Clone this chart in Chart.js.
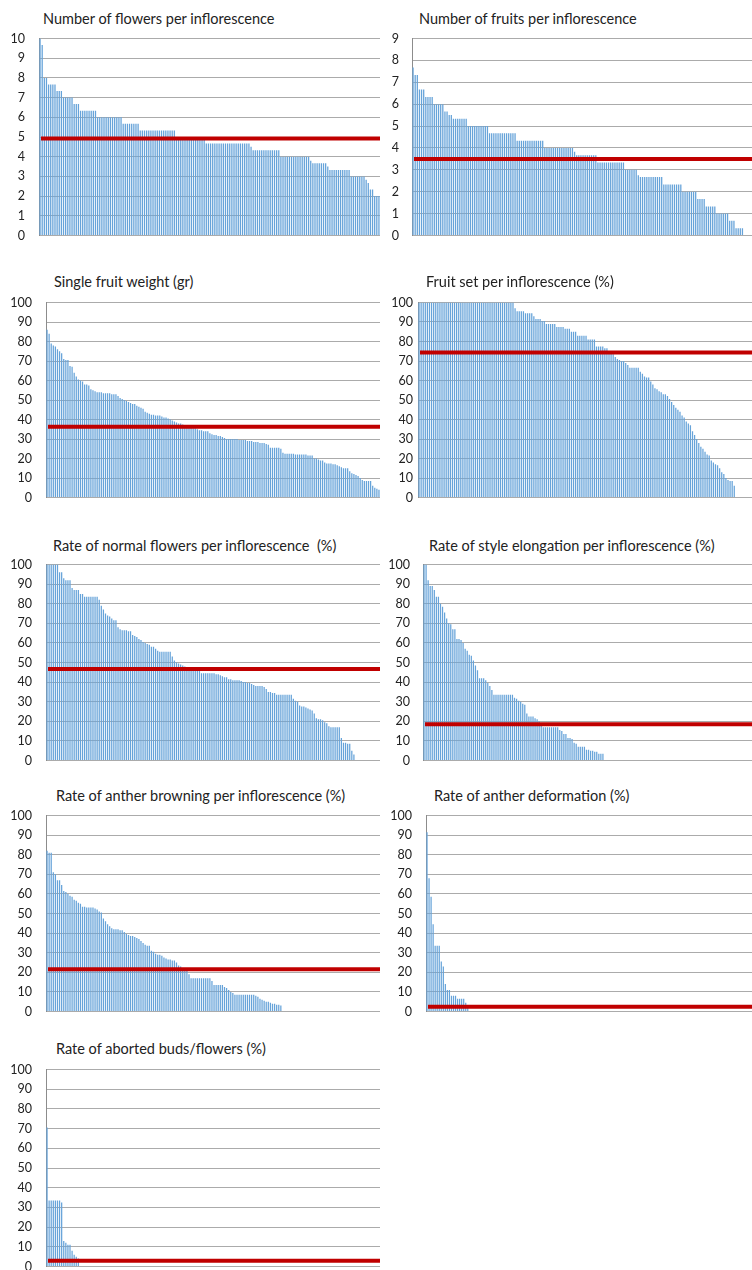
<!DOCTYPE html>
<html>
<head>
<meta charset="utf-8">
<script src="https://cdn.jsdelivr.net/npm/chart.js@4.4.1/dist/chart.umd.min.js"></script>
<style>
  body { margin: 0; width: 752px; height: 1270px; overflow: hidden; background: #fff; position: relative; }
  .title { position: absolute; font-family: Lato, sans-serif; font-size: 14.5px; line-height: 1; color: #222; white-space: pre; }
  canvas { position: absolute; }
</style>
</head>
<body>
<script>
// one bar per inflorescence, sorted high to low (trailing zeros left out)
const inflorescences = Array.from({ length: 160 }, (_, i) => i + 1);

const flowersPerInflorescence = [
  10, 9.67, 8, 8, 7.67, 7.67, 7.67, 7.67, 7.33, 7.33, 7.33,
  7, 7, 7, 7, 7, 6.67, 6.67, 6.67,
  6.33, 6.33, 6.33, 6.33, 6.33, 6.33, 6.33, 6.33,
  6, 6, 6, 6, 6, 6, 6, 6, 6, 6, 6, 6,
  5.67, 5.67, 5.67, 5.67, 5.67, 5.67, 5.67, 5.67,
  5.33, 5.33, 5.33, 5.33, 5.33, 5.33, 5.33, 5.33, 5.33,
  5.33, 5.33, 5.33, 5.33, 5.33, 5.33, 5.33, 5.33,
  5, 5, 5, 5, 5, 5, 5, 5, 5, 5, 5, 5, 5, 5,
  4.67, 4.67, 4.67, 4.67, 4.67, 4.67, 4.67, 4.67, 4.67, 4.67, 4.67,
  4.67, 4.67, 4.67, 4.67, 4.67, 4.67, 4.67, 4.67, 4.67, 4.67, 4.5,
  4.33, 4.33, 4.33, 4.33, 4.33, 4.33, 4.33, 4.33, 4.33, 4.33, 4.33, 4.33, 4.33,
  4, 4, 4, 4, 4, 4, 4, 4, 4, 4, 4, 4, 4, 4, 3.8,
  3.67, 3.67, 3.67, 3.67, 3.67, 3.67, 3.67, 3.5,
  3.33, 3.33, 3.33, 3.33, 3.33, 3.33, 3.33, 3.33, 3.33, 3.33,
  3, 3, 3, 3, 3, 3, 3, 2.83, 2.67, 2.33, 2.33, 2, 2, 2
];

const fruitsPerInflorescence = [
  7.67, 7.33, 7.33, 6.67, 6.67, 6.67, 6.33, 6.33, 6.33, 6.33,
  6, 6, 6, 6, 6, 5.67, 5.67, 5.5, 5.5,
  5.33, 5.33, 5.33, 5.33, 5.33, 5.33, 5.33,
  5, 5, 5, 5, 5, 5, 5, 5, 5, 5,
  4.67, 4.67, 4.67, 4.67, 4.67, 4.67, 4.67, 4.67, 4.67, 4.67, 4.67, 4.67, 4.67,
  4.33, 4.33, 4.33, 4.33, 4.33, 4.33, 4.33, 4.33, 4.33, 4.33, 4.33, 4.33, 4.33,
  4, 4, 4, 4, 4, 4, 4, 4, 4, 4, 4, 4, 4, 4, 3.83,
  3.67, 3.67, 3.67, 3.67, 3.67, 3.67, 3.67, 3.67, 3.67, 3.67,
  3.33, 3.33, 3.33, 3.33, 3.33, 3.33, 3.33, 3.33, 3.33, 3.33, 3.33, 3.33, 3.33,
  3, 3, 3, 3, 3, 3, 2.75,
  2.67, 2.67, 2.67, 2.67, 2.67, 2.67, 2.67, 2.67, 2.67, 2.67, 2.67,
  2.33, 2.33, 2.33, 2.33, 2.33, 2.33, 2.33, 2.33, 2.33,
  2, 2, 2, 2, 2, 2, 2,
  1.67, 1.67, 1.67, 1.67, 1.33, 1.33, 1.33, 1.33, 1.33,
  1, 1, 1, 1, 1, 1, 0.67, 0.67, 0.67, 0.33, 0.33, 0.33, 0.33
];

const singleFruitWeight = [
  86, 84, 79, 78, 77.5, 76, 75, 74, 71, 70.5, 70.5, 67.5, 67, 64, 62, 60.5,
  60, 59.5, 58, 58, 57.5, 55.5, 55, 54.5,
  54, 54, 54, 53.5, 53.5, 53.5, 53.5, 53, 53, 53,
  52, 51, 50.5, 50, 49.5, 49, 48.5, 48, 48, 47,
  46.5, 46, 45.5, 44, 43.5, 43, 42.5, 42.5, 42, 42,
  42, 41.5, 41, 41, 40.5, 40, 39.5, 39, 38.5, 38,
  38, 37.5, 37, 36.5, 36, 36, 35.5, 35.5, 35, 34.5,
  34.5, 34, 34, 34, 33, 32.5, 32, 32, 31.5, 31.5,
  31, 30.5, 30, 30, 30, 30, 30, 30, 29.5, 29.5,
  29.5, 29.5, 29, 29, 29, 28.5, 28.5, 28.5, 28, 28,
  28, 27.5, 27, 25.5, 25.5, 25.5, 25.5, 25.5, 25, 23,
  22.5, 22.5, 22.5, 22.5, 22.5, 22, 22, 22, 22, 22,
  22, 21.5, 21.5, 21.5, 20, 20, 19.5, 19, 19, 18,
  17.5, 17.5, 17.5, 17, 17, 16.5, 16, 15.5, 15, 15,
  15, 13.5, 12.5, 12, 11.5, 11, 10, 9, 8.5, 8.5,
  8.5, 8.5, 6, 5, 4.5, 4
];

const fruitSet = [
  100, 100, 100, 100, 100, 100, 100, 100, 100, 100,
  100, 100, 100, 100, 100, 100, 100, 100, 100, 100,
  100, 100, 100, 100, 100, 100, 100, 100, 100, 100,
  100, 100, 100, 100, 100, 100, 100, 100, 100, 100,
  100, 100, 100, 100, 100, 100,
  97, 95.5, 95.5, 95.5, 95.5, 94.5, 94.5, 94.5, 94.5, 93,
  91.5, 91.5, 91.5, 90.5, 90.5, 89, 89, 89, 89, 89,
  87.5, 87.5, 87.5, 87.5, 86.5, 86.5, 86.5, 85, 85, 85,
  83, 83, 83, 83, 83, 81, 81, 81, 81,
  77.5, 77.5, 77.5, 77.5, 76.5, 76.5, 75, 75, 73.5, 72,
  71, 70.5, 70, 70, 69, 68, 66.5, 66.5, 66.5, 66.5, 66.5,
  64.5, 63.5, 62, 61.5, 61.5, 59.5, 58, 56, 55.5,
  54.5, 54, 53, 53, 52, 50.5, 49, 47.5, 46, 45, 44,
  42, 41, 39, 38, 37, 34, 32, 30, 28, 26,
  25, 23.5, 22, 21.5, 19, 18, 17, 16.5, 15,
  13, 12, 10, 9, 8.5, 8.5, 6
];

const normalFlowersRate = [
  100, 100, 100, 100, 100, 100, 96, 96, 93, 92, 92, 92, 88, 87, 87, 87, 85, 85,
  83.5, 83.5, 83.5, 83.5, 83.5, 83.5, 83.5,
  82, 79, 77, 75, 74, 73.5, 72.5, 71.5, 71.5, 68,
  67, 66.5, 66.5, 66.5, 66, 66,
  64, 63.5, 63, 62, 61.5, 60.5, 60, 59.5, 59, 58, 58, 57,
  56, 55.5, 55.5, 55.5, 55.5, 55.5, 55.5,
  53, 51, 50, 49.5, 49, 48.5, 48, 47.5,
  47, 47, 47, 46.5, 46.5, 46.5,
  44.5, 44.5, 44.5, 44.5, 44.5, 44.5, 44.5,
  44, 44, 43.5, 43, 42.5, 42.5,
  41.5, 41.5, 41, 41, 41, 41,
  40.5, 40, 40, 39.5, 39.5, 39,
  38.5, 38, 38, 38, 38, 37.5,
  36.5, 35, 35, 34.5, 34.5,
  33.5, 33.5, 33.5, 33.5, 33.5, 33.5, 33.5, 33.5,
  31.5, 30.5, 30, 28, 27.5, 27.5, 27, 26.5, 26, 25.5, 24,
  21.5, 21, 21, 20.5, 19.5, 19,
  17.5, 17, 17, 17, 17, 17,
  11.5, 9, 9, 8.5, 8.5, 5, 3
];

const styleElongationRate = [
  100, 100, 92, 89, 89, 87, 83.5, 83.5, 80, 78.5, 75.5, 72.5, 70, 69.5, 67, 67,
  62, 62, 61.5, 60, 57, 56, 54, 53.5, 51, 48.5, 46, 42, 42, 42, 41, 39.5, 38, 36,
  33.5, 33.5, 33.5, 33.5, 33.5, 33.5, 33.5, 33.5, 33.5, 33.5,
  32, 31.5, 30.5, 30, 29, 28.5, 24, 22.5, 22.5, 22.5, 21.5, 21, 20, 19,
  17, 17, 17, 17, 17, 17, 17, 17,
  15.5, 15, 13.5, 13.5, 11.5, 11.5, 11, 9, 8.5, 7, 7, 7, 7,
  5.5, 5.5, 5, 5, 4.5, 4.5, 3.5, 3.5, 3.5
];

const antherBrowningRate = [
  82, 81, 81, 71, 70, 67, 67, 64.5, 61.5, 61, 60, 59, 58.5, 57, 56.5, 55.5, 55,
  53.5, 53.5, 53, 53, 53, 53, 52.5, 52, 51, 50.5,
  47.5, 46, 44.5, 43.5, 42.5, 42, 42, 42, 41.5, 41.5, 40.5, 39.5,
  39, 38.5, 38.5, 38, 37.5, 37, 36, 35, 34, 33.5, 33.5, 31, 30.5, 29.5,
  29, 29, 28.5, 27.5, 27, 26.5, 26.5, 26, 26, 25, 23.5, 23, 22, 21.5, 21, 19,
  17, 17, 17, 17, 17, 17, 17, 17, 17, 17,
  15.5, 13.5, 13.5, 13.5, 13.5, 13.5, 12.5, 12, 11, 10, 9.5, 8.5,
  8.5, 8.5, 8.5, 8.5, 8.5, 8.5, 8.5, 8.5, 8.5,
  8, 7.5, 6.5, 6, 5.5, 5, 5, 4.5, 4, 4, 3.5, 3.5, 3
];

const antherDeformationRate = [
  91.5, 68, 58.5, 44.5, 33.5, 33.5, 33.5, 25.5, 23, 14, 11, 11,
  8, 8, 8, 6.5, 6.5, 6.5, 6.5, 4.5, 2.5
];

const abortedBudsRate = [
  70.5, 33.5, 33.5, 33.5, 33.5, 33.5, 33.5, 32.5, 13, 12, 11, 11, 8, 6, 5, 4
];

// red line = mean of each trait
const meanValues = [4.93, 3.5, 36.3, 74.3, 46.7, 18.5, 21.6, 2.4, 2.9];
const axisMax = [10, 9, 100, 100, 100, 100, 100, 100, 100];
const axisStep = [1, 1, 10, 10, 10, 10, 10, 10, 10];

const titles = [
  'Number of flowers per inflorescence',
  'Number of fruits per inflorescence',
  'Single fruit weight (gr)',
  'Fruit set per inflorescence (%)',
  'Rate of normal flowers per inflorescence  (%)',
  'Rate of style elongation per inflorescence (%)',
  'Rate of anther browning per inflorescence (%)',
  'Rate of anther deformation (%)',
  'Rate of aborted buds/flowers (%)'
];

const series = [
  flowersPerInflorescence, fruitsPerInflorescence, singleFruitWeight, fruitSet,
  normalFlowersRate, styleElongationRate, antherBrowningRate,
  antherDeformationRate, abortedBudsRate
];

// page layout: plot box (left, right, top, bottom), title spot, label gap
const panels = [
  { l: 39,  r: 380, t: 38,   b: 235,  tx: 43,  ty: 12,   gap: 14 },
  { l: 412, r: 752, t: 38,   b: 235,  tx: 419, ty: 12,   gap: 13 },
  { l: 46,  r: 380, t: 302,  b: 497,  tx: 54,  ty: 275,  gap: 14 },
  { l: 418, r: 752, t: 302,  b: 497,  tx: 426, ty: 275,  gap: 5 },
  { l: 46,  r: 380, t: 564,  b: 760,  tx: 53,  ty: 539,  gap: 14 },
  { l: 423, r: 752, t: 564,  b: 760,  tx: 429, ty: 539,  gap: 13 },
  { l: 46,  r: 380, t: 815,  b: 1011, tx: 56,  ty: 789,  gap: 14 },
  { l: 426, r: 752, t: 815,  b: 1011, tx: 434, ty: 789,  gap: 14 },
  { l: 46,  r: 380, t: 1069, b: 1266, tx: 56,  ty: 1042, gap: 14 }
];

const AXIS_W = 40;
const PAD = 10;

const meanLine = {
  id: 'meanLine',
  afterDatasetsDraw(chart, args, opts) {
    const y = chart.scales.y.getPixelForValue(opts.value);
    const { left, right } = chart.chartArea;
    const ctx = chart.ctx;
    ctx.save();
    ctx.strokeStyle = '#C00000';
    ctx.lineWidth = 4;
    ctx.beginPath();
    ctx.moveTo(left + 2, y);
    ctx.lineTo(right, y);
    ctx.stroke();
    ctx.restore();
  }
};

panels.forEach((p, i) => {
  const title = document.createElement('div');
  title.className = 'title';
  title.textContent = titles[i];
  title.style.left = p.tx + 'px';
  title.style.top = p.ty + 'px';
  document.body.appendChild(title);

  const canvas = document.createElement('canvas');
  const w = p.r - p.l + AXIS_W;
  const h = p.b - p.t + PAD * 2;
  canvas.width = w;
  canvas.height = h;
  canvas.style.width = w + 'px';
  canvas.style.height = h + 'px';
  canvas.style.left = (p.l - AXIS_W) + 'px';
  canvas.style.top = (p.t - PAD) + 'px';
  document.body.appendChild(canvas);

  const chart = new Chart(canvas.getContext('2d'), {
    type: 'bar',
    data: {
      labels: inflorescences,
      datasets: [{
        data: series[i],
        backgroundColor: '#66A3D9',
        barPercentage: 0.6,
        categoryPercentage: 1
      }]
    },
    plugins: [meanLine],
    options: {
      responsive: false,
      maintainAspectRatio: false,
      animation: false,
      devicePixelRatio: 1,
      layout: { padding: { top: PAD, bottom: PAD, left: 0, right: 0 } },
      plugins: {
        legend: { display: false },
        tooltip: { enabled: false },
        meanLine: { value: meanValues[i] }
      },
      scales: {
        x: { display: false },
        y: {
          min: 0,
          max: axisMax[i],
          ticks: {
            stepSize: axisStep[i],
            padding: p.gap,
            color: '#222',
            font: { family: 'Lato', size: 12.5 }
          },
          grid: { color: '#ABABAB', lineWidth: 1, drawTicks: false },
          border: { display: true, color: '#8C8C8C' },
          afterFit(scale) { scale.width = AXIS_W; }
        }
      }
    }
  });

  // the label room Chart.js adds is not known up front: measure it, then
  // resize so the plot box lands exactly on the wanted top and bottom
  const topInset = chart.chartArea.top;
  const bottomInset = h - chart.chartArea.bottom;
  const newH = Math.round((p.b - p.t) + topInset + bottomInset);
  canvas.style.top = (p.t - topInset) + 'px';
  chart.resize(w, newH);
});
</script>
</body>
</html>
